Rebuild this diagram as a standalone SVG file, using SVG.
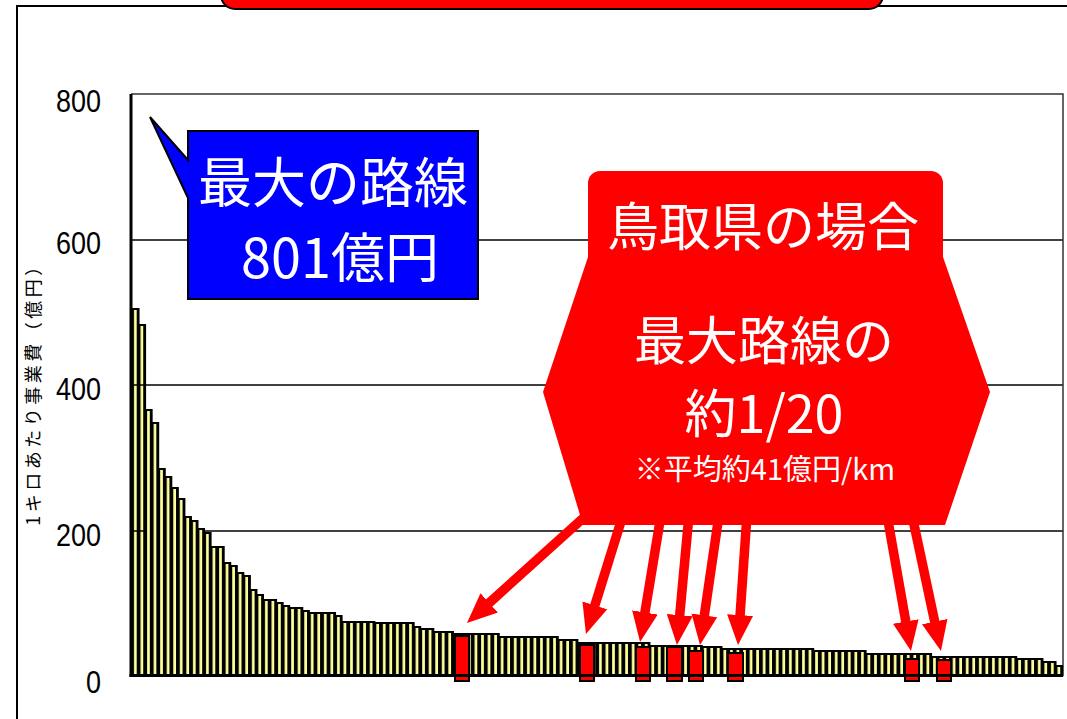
<svg xmlns="http://www.w3.org/2000/svg" width="1067" height="719" viewBox="0 0 1067 719">
<style>
.grid{stroke:#000;stroke-width:1.5}
.tick{font-family:"Liberation Sans",Arial,sans-serif;font-size:32px;fill:#000;text-anchor:end}
.jp{font-family:"Noto Sans CJK JP","Noto Sans CJK SC",sans-serif;fill:#fff;text-anchor:middle}
.arrow{stroke:#FF0000;stroke-width:9.5;fill:none;marker-end:url(#ah)}
.red{fill:#FF0000;stroke:#000;stroke-width:2}
</style>
<defs>
<pattern id="stripes" patternUnits="userSpaceOnUse" x="132" y="0" width="6.55" height="20">
<rect x="0" y="0" width="6.55" height="20" fill="#000"/>
<rect x="2" y="0" width="2.7" height="20" fill="#FFFF99"/>
</pattern>
<marker id="ah" markerUnits="userSpaceOnUse" markerWidth="30" markerHeight="26" refX="10" refY="13" orient="auto">
<path d="M0,0 L30,13 L0,26 Z" fill="#FF0000"/>
</marker>
</defs>
<rect width="1067" height="719" fill="#fff"/>
<g id="frame">
<path d="M17,719 V6 H1067" fill="none" stroke="#000" stroke-width="2"/>
<rect x="221" y="-20" width="662" height="29" rx="14" fill="#FF0000" stroke="#000" stroke-width="2"/>
</g>
<g id="chart">
<line class="grid" x1="131" y1="240" x2="1063" y2="240"/>
<line class="grid" x1="131" y1="385" x2="1063" y2="385"/>
<line class="grid" x1="131" y1="531" x2="1063" y2="531"/>
<path d="M131,94 H1063 V676" fill="none" stroke="#333" stroke-width="1.5"/>
<path d="M132,676 V309 H138.55 V325 H145.1 V410 H151.65 V423 H158.2 V469 H164.75 V477 H171.3 V488 H177.85 V499 H184.4 V517 H190.95 V521 H197.5 V529 H204.05 V533 H210.6 V547 H223.7 V563 H230.25 V566 H236.8 V573 H243.35 V576 H249.9 V590 H256.45 V595 H263 V600 H276.1 V603 H282.65 V606 H289.2 V608 H302.3 V611 H308.85 V613 H335.05 V616 H341.6 V622 H374.35 V623 H413.65 V627 H420.2 V629 H433.3 V632 H452.95 V634 H498.8 V637 H557.75 V640 H577.4 V643 H649.45 V646 H701.85 V647 H721.5 V649 H813.2 V651 H865.6 V654 H931.1 V657 H1016.25 V659 H1042.45 V662 H1055.55 V666 H1062.1 V676 Z" fill="url(#stripes)" stroke="#000" stroke-width="2"/>
<line class="grid" x1="132" y1="385" x2="145" y2="385"/>
<line class="grid" x1="132" y1="531" x2="145" y2="531"/>
<rect class="red" x="455" y="636" width="14" height="45"/>
<rect class="red" x="580" y="645" width="14" height="36"/>
<rect class="red" x="636" y="647" width="14" height="34"/>
<rect class="red" x="667" y="647" width="15" height="34"/>
<rect class="red" x="689" y="651" width="14" height="30"/>
<rect class="red" x="728" y="653" width="15" height="28"/>
<rect class="red" x="905" y="659" width="14" height="22"/>
<rect class="red" x="937" y="660" width="14" height="21"/>
<line x1="131" y1="94" x2="131" y2="677" stroke="#000" stroke-width="3"/>
<line x1="129.5" y1="675.5" x2="1063" y2="675.5" stroke="#000" stroke-width="3"/>
<text class="tick" x="101" y="112" textLength="45" lengthAdjust="spacingAndGlyphs">800</text>
<text class="tick" x="101" y="254" textLength="45" lengthAdjust="spacingAndGlyphs">600</text>
<text class="tick" x="101" y="400" textLength="45" lengthAdjust="spacingAndGlyphs">400</text>
<text class="tick" x="101" y="546" textLength="45" lengthAdjust="spacingAndGlyphs">200</text>
<text class="tick" x="101" y="693" textLength="15" lengthAdjust="spacingAndGlyphs">0</text>
<text transform="translate(40,390) rotate(-90)" text-anchor="middle" font-family="'Noto Sans CJK JP','Noto Sans CJK SC',sans-serif" font-size="18" letter-spacing="3.5" fill="#000">1キロあたり事業費（億円）</text>
</g>
<g id="connectors">
<line class="arrow" x1="590" y1="512" x2="481.8" y2="609.6"/>
<line class="arrow" x1="623" y1="515" x2="591.9" y2="614.9"/>
<line class="arrow" x1="661" y1="515" x2="643.3" y2="622.3"/>
<line class="arrow" x1="689" y1="515" x2="678.8" y2="625.1"/>
<line class="arrow" x1="719" y1="515" x2="702.9" y2="625.2"/>
<line class="arrow" x1="747" y1="515" x2="739.4" y2="625.0"/>
<line class="arrow" x1="887" y1="515" x2="907.5" y2="631.3"/>
<line class="arrow" x1="912" y1="515" x2="936.8" y2="631.4"/>
</g>
<g id="max-callout">
<path d="M188,131 H478 V299 H188 V198 L150,117 L188,160 Z" fill="#0000FF" stroke="#000" stroke-width="2"/>
<text class="jp" x="333" y="203" font-size="54">最大の路線</text>
<text class="jp" x="340" y="278" font-size="54">801億円</text>
</g>
<g id="tottori-callout">
<rect x="588" y="171" width="355" height="140" rx="12" fill="#FF0000"/>
<polygon points="588,257 943,257 990,392 945,525 583,525 543,392" fill="#FF0000"/>
<text class="jp" x="763" y="246" font-size="52">鳥取県の場合</text>
<text class="jp" x="764" y="360" font-size="52">最大路線の</text>
<text class="jp" x="764" y="433" font-size="52">約1/20</text>
<text class="jp" x="765" y="480" font-size="29">※平均約41億円/km</text>
</g>
</svg>
